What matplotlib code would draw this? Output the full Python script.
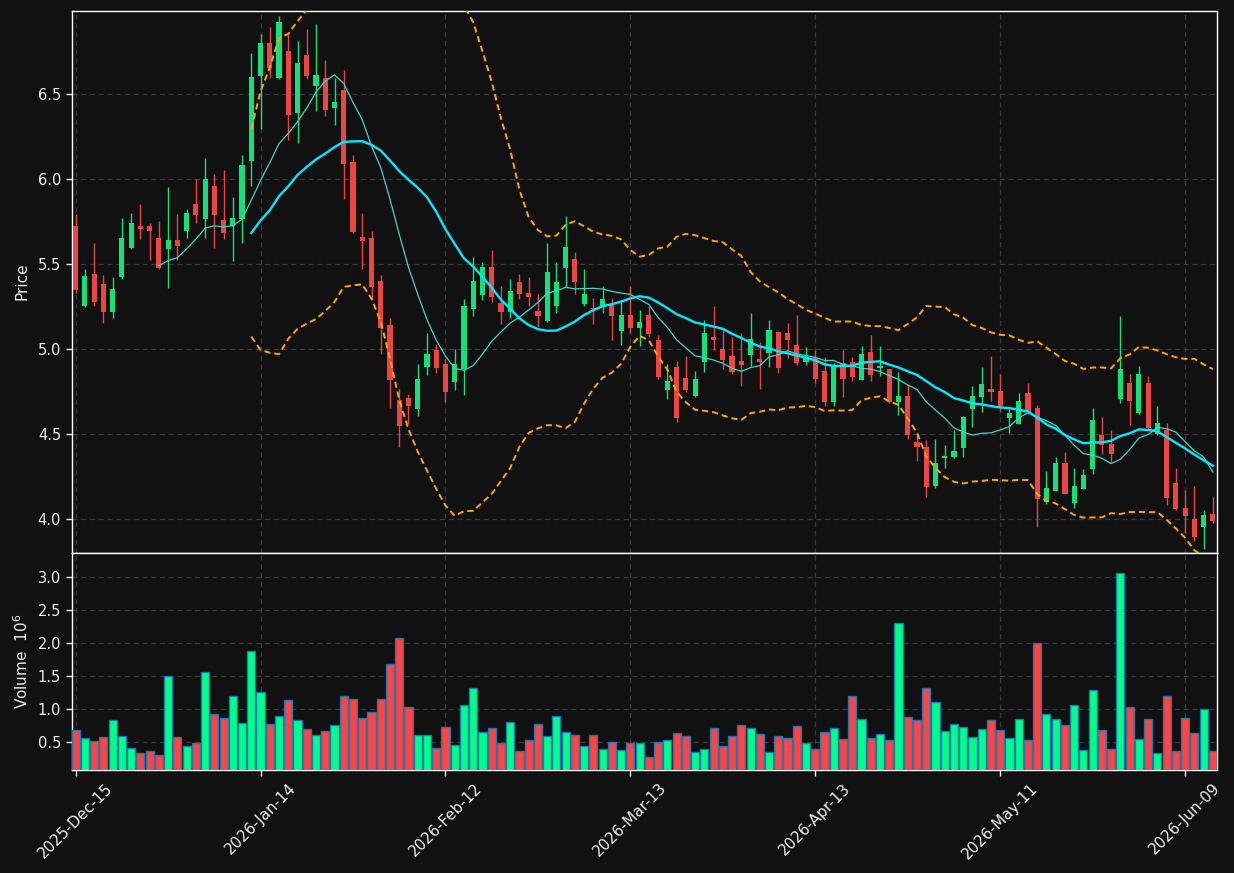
import numpy as np
import pandas as pd
import matplotlib
matplotlib.use("Agg")
import matplotlib.pyplot as plt

# ---------------- data ----------------
holidays = ["2025-12-25", "2026-01-01", "2026-01-19", "2026-02-16",
            "2026-04-03", "2026-05-25"]
dates = pd.bdate_range("2025-12-15", "2026-06-12")
dates = dates[~dates.isin(pd.to_datetime(holidays))]

opens = [5.727, 5.256, 5.442, 5.385, 5.221, 5.428, 5.598, 5.727, 5.727, 5.655,
         5.590, 5.643, 5.696, 5.856, 5.768, 5.962, 5.761, 5.727, 5.768, 6.109,
         6.608, 6.803, 6.596, 6.756, 6.392, 6.729, 6.551, 6.596, 6.422, 6.527,
         6.103, 5.661, 5.655, 5.401, 5.144, 4.702, 4.714, 4.651, 4.898, 4.996,
         4.914, 4.810, 4.886, 5.239, 5.322, 5.484, 5.273, 5.222, 5.396, 5.331,
         5.225, 5.169, 5.257, 5.480, 5.531, 5.269, 5.245, 5.251, 5.269, 5.110,
         5.202, 5.127, 5.202, 5.055, 4.763, 4.896, 4.831, 4.727, 4.927, 5.073,
         5.002, 4.961, 4.931, 4.967, 4.943, 4.978, 5.102, 5.096, 5.025, 4.925,
         4.950, 4.873, 4.692, 4.918, 4.924, 4.822, 4.982, 4.892, 4.882, 4.692,
         4.725, 4.453, 4.425, 4.198, 4.363, 4.369, 4.422, 4.651, 4.722, 4.765,
         4.755, 4.598, 4.563, 4.741, 4.655, 4.100, 4.169, 4.329, 4.098, 4.180,
         4.296, 4.496, 4.443, 4.710, 4.802, 4.625, 4.802, 4.500, 4.525, 4.214,
         4.067, 4.002, 3.953, 4.031]
highs = [5.794, 5.473, 5.624, 5.440, 5.424, 5.772, 5.800, 5.854, 5.741, 5.753,
         5.954, 5.794, 5.823, 6.001, 6.124, 6.029, 6.054, 5.894, 6.142, 6.741,
         6.852, 6.895, 6.960, 6.854, 6.813, 6.883, 6.913, 6.700, 6.596, 6.641,
         6.142, 5.800, 5.694, 5.440, 5.185, 4.767, 4.739, 4.912, 5.095, 5.029,
         4.945, 5.000, 5.298, 5.541, 5.512, 5.584, 5.371, 5.412, 5.441, 5.425,
         5.324, 5.624, 5.512, 5.784, 5.573, 5.473, 5.300, 5.371, 5.300, 5.280,
         5.371, 5.229, 5.257, 5.082, 4.914, 4.929, 4.959, 4.871, 5.171, 5.255,
         5.122, 5.071, 5.094, 5.212, 5.041, 5.171, 5.110, 5.153, 5.200, 5.012,
         4.996, 4.953, 4.922, 4.994, 4.957, 5.022, 5.082, 5.022, 4.885, 4.869,
         4.794, 4.506, 4.465, 4.471, 4.437, 4.525, 4.605, 4.782, 4.894, 4.961,
         4.853, 4.651, 4.741, 4.800, 4.671, 4.284, 4.365, 4.394, 4.300, 4.296,
         4.653, 4.600, 4.524, 5.194, 4.853, 4.900, 4.841, 4.665, 4.567, 4.300,
         4.173, 4.196, 4.053, 4.131]
lows = [5.330, 5.250, 5.254, 5.154, 5.182, 5.412, 5.590, 5.651, 5.528, 5.471,
        5.358, 5.528, 5.657, 5.741, 5.657, 5.598, 5.651, 5.522, 5.628, 5.958,
        6.295, 6.598, 6.590, 6.230, 6.212, 6.592, 6.402, 6.371, 6.322, 5.882,
        5.684, 5.471, 5.299, 4.970, 4.655, 4.423, 4.563, 4.610, 4.851, 4.863,
        4.692, 4.763, 4.729, 5.194, 5.292, 5.280, 5.151, 5.182, 5.298, 5.257,
        5.133, 5.160, 5.212, 5.369, 5.324, 5.253, 5.151, 5.212, 5.053, 5.025,
        5.098, 5.022, 5.075, 4.827, 4.710, 4.571, 4.747, 4.720, 4.869, 4.998,
        4.882, 4.853, 4.782, 4.904, 4.769, 4.898, 4.863, 4.951, 4.910, 4.910,
        4.800, 4.665, 4.669, 4.722, 4.812, 4.818, 4.812, 4.841, 4.686, 4.612,
        4.471, 4.341, 4.129, 4.182, 4.300, 4.363, 4.365, 4.541, 4.629, 4.698,
        4.640, 4.510, 4.560, 4.624, 3.953, 4.090, 4.165, 4.150, 4.065, 4.178,
        4.265, 4.384, 4.337, 4.682, 4.553, 4.620, 4.530, 4.498, 4.084, 4.053,
        3.920, 3.870, 3.827, 3.980]
closes = [5.350, 5.432, 5.281, 5.221, 5.354, 5.655, 5.743, 5.710, 5.696, 5.481,
          5.643, 5.608, 5.802, 5.790, 6.001, 5.790, 5.682, 5.774, 6.085, 6.602,
          6.803, 6.655, 6.926, 6.381, 6.686, 6.610, 6.615, 6.410, 6.455, 6.093,
          5.692, 5.639, 5.367, 5.125, 4.818, 4.550, 4.669, 4.824, 4.972, 4.892,
          4.751, 4.914, 5.255, 5.402, 5.484, 5.310, 5.220, 5.343, 5.327, 5.310,
          5.198, 5.455, 5.396, 5.602, 5.398, 5.325, 5.235, 5.296, 5.198, 5.202,
          5.127, 5.161, 5.092, 4.839, 4.814, 4.598, 4.761, 4.825, 5.096, 5.057,
          4.937, 4.867, 4.910, 5.061, 4.925, 5.114, 4.892, 5.055, 4.920, 4.953,
          4.826, 4.692, 4.906, 4.827, 4.839, 4.971, 4.851, 4.902, 4.692, 4.725,
          4.496, 4.425, 4.192, 4.329, 4.373, 4.400, 4.602, 4.725, 4.796, 4.751,
          4.667, 4.625, 4.696, 4.633, 4.122, 4.184, 4.329, 4.151, 4.194, 4.263,
          4.584, 4.439, 4.382, 4.884, 4.698, 4.855, 4.537, 4.567, 4.124, 4.063,
          4.022, 3.898, 4.024, 3.992]
volumes = [0.682, 0.561, 0.520, 0.576, 0.833, 0.591, 0.409, 0.338, 0.369, 0.308,
           1.500, 0.576, 0.439, 0.490, 1.561, 0.924, 0.864, 1.197, 0.788, 1.879,
           1.258, 0.773, 0.894, 1.136, 0.833, 0.697, 0.606, 0.667, 0.758, 1.197,
           1.152, 0.864, 0.955, 1.152, 1.682, 2.076, 1.030, 0.606, 0.606, 0.409,
           0.727, 0.452, 1.061, 1.318, 0.652, 0.712, 0.490, 0.803, 0.369, 0.530,
           0.773, 0.591, 0.894, 0.652, 0.606, 0.449, 0.606, 0.394, 0.500, 0.379,
           0.485, 0.485, 0.273, 0.500, 0.530, 0.636, 0.591, 0.348, 0.394, 0.712,
           0.439, 0.591, 0.758, 0.712, 0.621, 0.348, 0.591, 0.561, 0.742, 0.485,
           0.394, 0.652, 0.712, 0.545, 1.197, 0.848, 0.561, 0.621, 0.530, 2.303,
           0.879, 0.833, 1.318, 1.106, 0.667, 0.773, 0.727, 0.576, 0.697, 0.833,
           0.682, 0.561, 0.848, 0.530, 2.000, 0.924, 0.848, 0.758, 1.061, 0.379,
           1.288, 0.682, 0.394, 3.061, 1.030, 0.545, 0.848, 0.333, 1.197, 0.364,
           0.864, 0.636, 1.000, 0.364]

# ---------------- style ----------------
BG = "#111111"
UP_C, DN_C = "#12e07a", "#ef4444"
UP_V, DN_V = "#00ff88", "#ff4444"
GRID = "#3a3a3a"
TXT = "#eeeeee"

df = pd.DataFrame({"Open": opens, "High": highs, "Low": lows,
                   "Close": closes, "Volume": volumes}, index=dates)
x = np.arange(len(df))
o, h, l, c, v = (df[k].to_numpy() for k in ["Open", "High", "Low", "Close", "Volume"])
up = c >= o

ma10 = df["Close"].rolling(10).mean()
ma20 = df["Close"].rolling(20).mean()
sd20 = df["Close"].rolling(20).std(ddof=0)
bb_up = ma20 + 2 * sd20
bb_lo = ma20 - 2 * sd20

fig = plt.figure(figsize=(12.34, 8.73), dpi=100, facecolor=BG)
W, H = 1234, 873
axp = fig.add_axes([71.5 / W, 1 - 552.5 / H, (1217 - 71.5) / W, (552.5 - 10.5) / H])
axv = fig.add_axes([71.5 / W, 1 - 770 / H, (1217 - 71.5) / W, (770 - 552.5) / H], sharex=axp)

for ax in (axp, axv):
    ax.set_facecolor(BG)
    for s in ax.spines.values():
        s.set_color("white")
        s.set_linewidth(1.0)
    ax.grid(True, color=GRID, linestyle=(0, (4, 3)), linewidth=0.9)
    ax.set_axisbelow(True)
    ax.tick_params(colors=TXT, labelsize=10.5, length=4, width=1)

# candles
col = np.where(up, UP_C, DN_C)
axp.vlines(x, l, h, colors=col, linewidth=1.0, zorder=2)
body_b = np.minimum(o, c)
body_h = np.maximum(np.abs(c - o), 0.006)
axp.bar(x, body_h, bottom=body_b, width=0.56, color=col, linewidth=0, zorder=3)

# moving averages and bands
axp.plot(x, ma10, color="#3fd6c8", linewidth=0.9, zorder=4)
axp.plot(x, ma20, color="#00eaff", linewidth=1.7, zorder=5)
axp.plot(x, bb_up, color="#ffa500", linewidth=1.4, linestyle=(0, (3.2, 2.0)), zorder=4)
axp.plot(x, bb_lo, color="#ffa500", linewidth=1.4, linestyle=(0, (3.2, 2.0)), zorder=4)

axp.set_ylim(3.805, 6.993)
axp.set_yticks([4.0, 4.5, 5.0, 5.5, 6.0, 6.5])
axp.set_ylabel("Price", color=TXT, fontsize=11, labelpad=6)
axp.tick_params(axis="x", labelbottom=False)

# volume
vcol = np.where(up, UP_V, DN_V)
axv.bar(x, v, width=0.88, color=vcol, edgecolor="#1f77b4", linewidth=1.0, zorder=3)
axv.set_ylim(0.3 * np.min(v), 1.1 * np.max(v))
axv.set_yticks([0.5, 1.0, 1.5, 2.0, 2.5, 3.0])
axv.set_ylabel("Volume  $10^6$", color=TXT, fontsize=11, labelpad=5)

axv.set_xlim(-0.45, len(df) - 0.55)
ticks = np.arange(0, len(df), 20)
axv.set_xticks(ticks)
axv.set_xticklabels([dates[i].strftime("%Y-%b-%d") for i in ticks],
                    rotation=45, ha="center", fontsize=11)

fig.savefig("out.png", dpi=100, facecolor=BG)
